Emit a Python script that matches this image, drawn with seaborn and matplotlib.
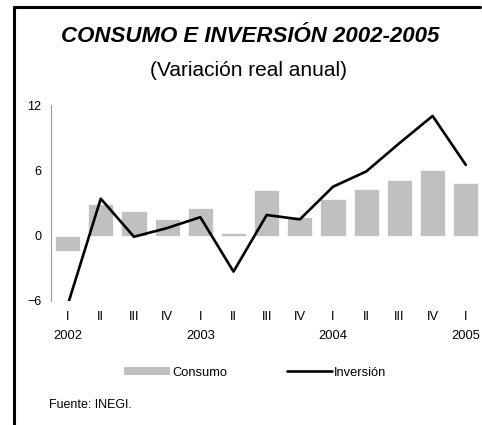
import numpy as np
import pandas as pd
import matplotlib
matplotlib.use("Agg")
import matplotlib.pyplot as plt
from matplotlib.lines import Line2D
from matplotlib.patches import Patch
import seaborn as sns

# datos
trimestres = ["I", "II", "III", "IV", "I", "II", "III", "IV", "I", "II", "III", "IV", "I"]
anios = ["2002", "", "", "", "2003", "", "", "", "2004", "", "", "", "2005"]
consumo = [-1.4, 2.9, 2.3, 1.5, 2.5, 0.2, 4.2, 1.7, 3.4, 4.3, 5.1, 6.0, 4.8]
inversion = [-6.4, 3.4, -0.1, 0.7, 1.7, -3.3, 1.9, 1.5, 4.5, 5.9, 8.5, 11.0, 6.5]

df = pd.DataFrame({
    "pos": np.arange(len(trimestres)),
    "Consumo": consumo,
    "Inversión": inversion,
})

sns.set_style("white")
plt.rcParams["font.family"] = ["Liberation Sans", "DejaVu Sans"]
plt.rcParams["text.color"] = "black"
plt.rcParams["xtick.color"] = "black"
plt.rcParams["ytick.color"] = "black"

fig = plt.figure(figsize=(4.82, 4.25), dpi=100)
ax = fig.add_axes([0.1058, 0.2918, 0.895, 0.461])

sns.barplot(data=df, x="pos", y="Consumo", color="#c0c0c0", saturation=1,
            width=0.76, edgecolor="white", linewidth=0.5, ax=ax, native_scale=True)
sns.lineplot(data=df, x="pos", y="Inversión", color="black", linewidth=1.9, ax=ax)

ax.set_xlim(-0.5, 12.5)
ax.set_ylim(-6, 12)
ax.set_yticks([-6, 0, 6, 12])
ax.tick_params(axis="y", length=0, pad=7, labelsize=9)
ax.set_xlabel("")
ax.set_ylabel("")

for s in ["top", "right", "bottom"]:
    ax.spines[s].set_visible(False)
ax.spines["left"].set_color("#9a9a9a")
ax.spines["left"].set_linewidth(0.8)

# marcas pequenas sobre la linea de cero
ax.spines["bottom"].set_position(("data", 0))
ax.set_xticks(np.arange(len(trimestres)) + 0.5, minor=True)
ax.set_xticks([])
ax.tick_params(axis="x", which="minor", length=3, width=0.6, color="#9a9a9a", labelbottom=False)

# etiquetas de trimestre y anio
sec = ax.secondary_xaxis("bottom")
sec.set_xticks(np.arange(len(trimestres)))
sec.set_xticklabels([f"{t}\n{a}" if a else t for t, a in zip(trimestres, anios)])
sec.tick_params(length=0, pad=7, labelsize=9.3)
for lab in sec.get_xticklabels():
    lab.set_linespacing(1.85)
sec.spines["bottom"].set_visible(False)

fig.text(0.52, 0.913, "CONSUMO E INVERSIÓN 2002-2005", ha="center", va="center",
         fontsize=16, fontweight="bold", fontstyle="italic")
fig.text(0.515, 0.835, "(Variación real anual)", ha="center", va="center", fontsize=15)

handles = [Patch(facecolor="#c0c0c0", edgecolor="none"),
           Line2D([0], [0], color="black", linewidth=1.9)]
fig.legend(handles, ["Consumo", "Inversión"], loc="center", bbox_to_anchor=(0.53, 0.123),
           ncol=2, frameon=False, fontsize=9.3, handlelength=3.5, handleheight=0.6,
           handletextpad=0.2, columnspacing=4.6)

fig.text(0.102, 0.047, "Fuente: INEGI.", ha="left", va="center", fontsize=9)

# marco
fig.add_artist(Line2D([0.029, 0.996], [0.983, 0.983], color="black", linewidth=2.2,
                      transform=fig.transFigure))
fig.add_artist(Line2D([0.029, 0.029], [0.983, 0.0], color="black", linewidth=2.2,
                      transform=fig.transFigure))

fig.savefig("out.png", dpi=100)
